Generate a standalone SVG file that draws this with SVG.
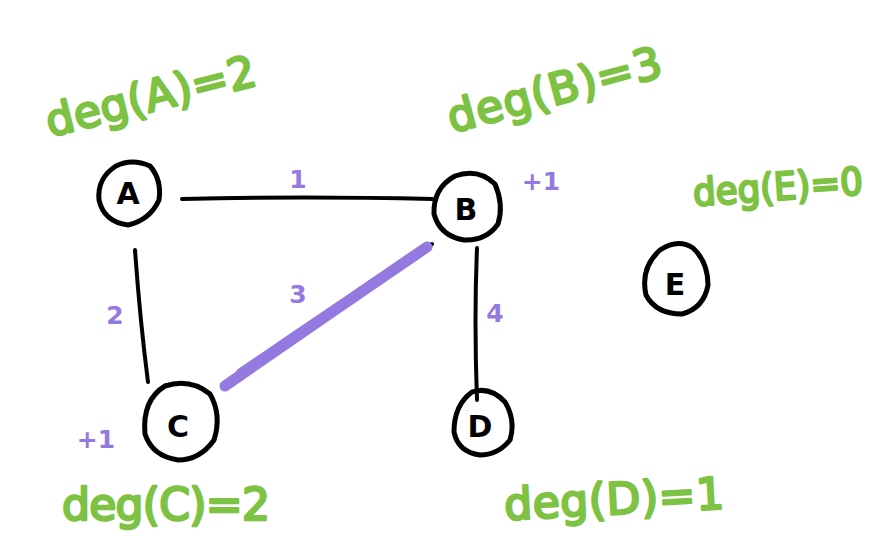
<svg xmlns="http://www.w3.org/2000/svg" width="886" height="536" viewBox="0 0 886 536">
<style>
.node{fill:none;stroke:#000;stroke-width:5;stroke-linecap:round;stroke-linejoin:round}
.nl{font-family:"DejaVu Sans",sans-serif;font-weight:bold;font-size:30px;fill:#000;text-anchor:middle}
.edge{fill:none;stroke:#000;stroke-width:4;stroke-linecap:round}
.hl{fill:none;stroke:#9379e0;stroke-width:11;stroke-linecap:round}
.w{font-family:"DejaVu Sans",sans-serif;font-weight:bold;font-size:25px;fill:#9379e0;text-anchor:middle}
.deg{font-family:"DejaVu Sans",sans-serif;font-size:44px;fill:#7dc242;stroke:#7dc242;stroke-width:2.5;stroke-linejoin:round}
</style>
<rect width="886" height="536" fill="#fff"/>
<g id="edges">
<path class="edge" d="M182,199 Q300,196 433,199"/>
<path class="edge" d="M135,250 Q140,320 148,382"/>
<path class="edge" d="M477,248 Q474,320 477,400"/>
<path class="edge" d="M223,388 L432,244"/>
<path class="hl" d="M225,386 Q320,320 427,247"/>
<path class="hl" d="M240,372 Q330,310 415,255" style="stroke-width:7"/>
</g>
<g id="weights">
<text class="w" x="298" y="188">1</text>
<text class="w" x="115" y="324">2</text>
<text class="w" x="298" y="303">3</text>
<text class="w" x="495" y="322">4</text>
<text class="w" x="541" y="190">+1</text>
<text class="w" x="96" y="448">+1</text>
</g>
<g id="A">
<path class="node" d="M116,166 Q132,158 150,166 Q162,180 159,200 Q150,220 128,225 Q104,222 99,200 Q97,178 116,166 Z"/>
<text class="nl" x="128" y="204">A</text>
</g>
<g id="B">
<path class="node" d="M455,176 Q478,168 495,184 Q504,205 498,224 Q486,241 464,240 Q440,236 434,214 Q433,188 455,176 Z"/>
<text class="nl" x="466" y="220">B</text>
</g>
<g id="C">
<path class="node" d="M165,386 Q190,378 210,394 Q222,415 214,440 Q200,460 178,460 Q152,456 145,434 Q142,400 165,386 Z"/>
<text class="nl" x="178" y="437">C</text>
</g>
<g id="D">
<path class="node" d="M472,392 Q490,386 505,402 Q516,420 510,440 Q498,455 480,455 Q458,452 454,432 Q454,405 472,392 Z"/>
<text class="nl" x="480" y="437">D</text>
</g>
<g id="E">
<path class="node" d="M660,250 Q678,238 693,248 Q708,262 708,285 Q704,308 682,314 Q656,314 646,295 Q640,268 660,250 Z"/>
<text class="nl" x="675" y="295">E</text>
</g>
<g id="labels">
<text class="deg" transform="translate(50,137) rotate(-14)" textLength="215" lengthAdjust="spacing">deg(A)=2</text>
<text class="deg" transform="translate(452,133) rotate(-15)" textLength="220" lengthAdjust="spacing">deg(B)=3</text>
<text class="deg" transform="translate(694,206) rotate(-4)" style="font-size:38px" textLength="170" lengthAdjust="spacingAndGlyphs">deg(E)=0</text>
<text class="deg" x="62" y="520" textLength="208" lengthAdjust="spacing">deg(C)=2</text>
<text class="deg" transform="translate(505,520) rotate(-3)" textLength="220" lengthAdjust="spacing">deg(D)=1</text>
</g>
</svg>
